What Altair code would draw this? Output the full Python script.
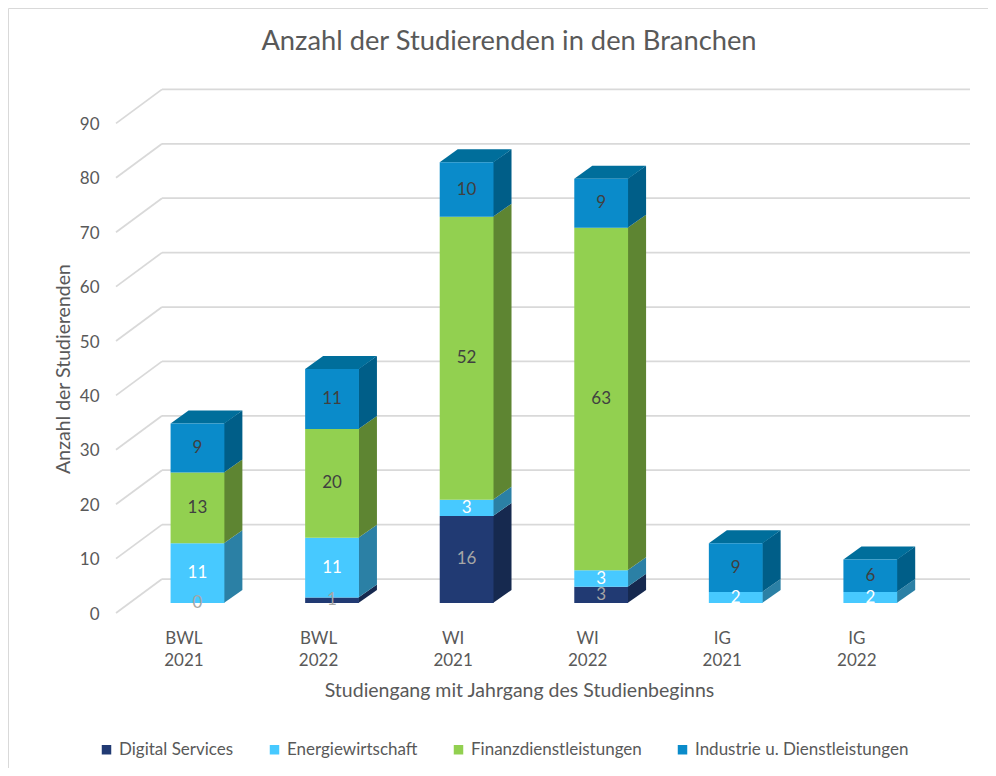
import json
import altair as alt
import pandas as pd

# ---------------- data ----------------
categories = ["BWL 2021", "BWL 2022", "WI 2021", "WI 2022", "IG 2021", "IG 2022"]
series_names = ["Digital Services", "Energiewirtschaft", "Finanzdienstleistungen",
                "Industrie u. Dienstleistungen"]
digital_services = [0, 1, 16, 3, None, None]
energiewirtschaft = [11, 11, 3, 3, 2, 2]
finanzdienstleistungen = [13, 20, 52, 63, None, None]
industrie_dienstleistungen = [9, 11, 10, 9, 9, 6]
y_ticks = [0, 10, 20, 30, 40, 50, 60, 70, 80, 90]

# ---------------- styles ----------------
front_colors = ["#213A73", "#47C9FF", "#92D050", "#0A8BCA"]
side_colors = ["#16294F", "#2B80A5", "#5E8532", "#005E88"]
top_colors = ["#1A3060", "#38A6D4", "#76A840", "#006E9B"]
label_colors = ["#A6A6A6", "#FFFFFF", "#404040", "#404040"]
FONT = "Lato"
TXT = "#595959"

rows = []
for s_i, (name, vals) in enumerate(zip(series_names, [digital_services, energiewirtschaft,
                                                     finanzdienstleistungen,
                                                     industrie_dienstleistungen])):
    for c_i, (cat, v) in enumerate(zip(categories, vals)):
        if v is not None:
            rows.append({"cat": cat, "ci": c_i, "series": name, "sidx": s_i, "value": v})
df = pd.DataFrame(rows)

W, H = 980, 760
Y0, Y90 = 595, 105.4
X0, X1 = 122.2, 929.6
px_per_unit_y = (Y0 - Y90) / 90
px_per_unit_x = (X1 - X0) / len(categories)
BW_PX = 53.8
DX, DY = 18, 13
ky = DY / px_per_unit_y          # depth rise in value units
kx = DX / px_per_unit_x          # depth shift in category units
hb = BW_PX / 2 / px_per_unit_x   # half bar width in category units

x_scale = alt.Scale(domain=[-0.5, len(categories) - 0.5], range=[X0, X1], nice=False,
                    zero=False, padding=0)
y_scale = alt.Scale(domain=[0, 90], range=[Y0, Y90], nice=False, zero=True, padding=0)

label_lines = json.dumps([c.split(" ") for c in categories])
x_axis = alt.Axis(title="Studiengang mit Jahrgang des Studienbeginns", orient="bottom",
                  offset=-(H - 615), labelOffset=-14, values=list(range(len(categories))),
                  labelExpr=f"{label_lines}[datum.value]",
                  domain=False, ticks=False, grid=False, labelPadding=7, labelAngle=0,
                  labelFontSize=17, labelLineHeight=22, titleFontSize=19.5, titlePadding=13,
                  titleX=511)
y_axis = alt.Axis(title="Anzahl der Studierenden", orient="left", offset=-93, values=y_ticks,
                  labelOffset=11, domain=False, ticks=False, grid=False, labelPadding=2,
                  labelFontSize=17, titleFontSize=19.5, titlePadding=6, titleY=360.5)

face_domain = ["side|" + s for s in series_names] + ["top|" + s for s in series_names]
face_scale = alt.Scale(domain=face_domain, range=side_colors + top_colors)

ticks_df = pd.DataFrame({"v": y_ticks})

grid_h = alt.Chart(ticks_df).mark_rule(color="#D9D9D9", strokeWidth=1.75, yOffset=-24).encode(
    y=alt.Y("v:Q", scale=y_scale, axis=y_axis),
    x=alt.value(154), x2=alt.value(962))
grid_d = alt.Chart(ticks_df).mark_rule(color="#D9D9D9", strokeWidth=1.75, yOffset=10,
                                       y2Offset=-24).encode(
    y=alt.Y("v:Q", scale=y_scale, axis=y_axis), y2=alt.Y2("v:Q"),
    x=alt.value(108), x2=alt.value(154))

base = alt.Chart(df).transform_stack(
    stack="value", groupby=["cat"], as_=["lo", "hi"],
    sort=[alt.SortField("sidx", order="ascending")])

# side faces (parallelograms right of each segment)
side = base.transform_filter("datum.value > 0").transform_calculate(
    d="[0, 1]").transform_flatten(["d"]).transform_calculate(
    xs=f"datum.ci + {hb} - 0.004 + datum.d * ({kx} + 0.004)",
    ylo=f"datum.lo + datum.d * {ky}",
    yhi=f"datum.hi + datum.d * {ky}",
    face="'side|' + datum.series",
    pid="datum.cat + '|' + datum.series").mark_area(interpolate="linear").encode(
    x=alt.X("xs:Q", scale=x_scale, axis=x_axis),
    y=alt.Y("ylo:Q", scale=y_scale, axis=y_axis), y2="yhi:Q",
    color=alt.Color("face:N", scale=face_scale, legend=None),
    detail="pid:N")

# top face of each column
top = base.transform_joinaggregate(total="max(hi)", groupby=["cat"]).transform_filter(
    "datum.hi == datum.total && datum.value > 0").transform_calculate(
    d="[0, 1, 2, 3]").transform_flatten(["d"]).transform_calculate(
    xs=f"datum.ci + [-{hb}, -{hb} + {kx}, {hb}, {hb} + {kx}][datum.d]",
    ylo=f"datum.hi + (datum.d == 3 ? {ky} : 0)",
    yhi=f"datum.hi + (datum.d >= 1 ? {ky} : 0)",
    face="'top|' + datum.series",
    pid="datum.cat").mark_area(interpolate="linear").encode(
    x=alt.X("xs:Q", scale=x_scale, axis=x_axis),
    y=alt.Y("ylo:Q", scale=y_scale, axis=y_axis), y2="yhi:Q",
    color=alt.Color("face:N", scale=face_scale, legend=None),
    detail="pid:N")

bars = base.mark_bar(orient="vertical", width=BW_PX).encode(
    x=alt.X("ci:Q", scale=x_scale, axis=x_axis),
    y=alt.Y("lo:Q", scale=y_scale, axis=y_axis), y2="hi:Q",
    color=alt.Color("series:N", scale=alt.Scale(domain=series_names, range=front_colors),
                    legend=alt.Legend(orient="none", legendX=90, legendY=733,
                                      direction="horizontal", title=None,
                                      symbolType="square", symbolSize=90,
                                      symbolStrokeWidth=0, labelFontSize=17,
                                      labelFont=FONT, labelColor=TXT, columnPadding=32,
                                      labelOffset=4, labelLimit=0)))

labels = base.transform_calculate(mid="(datum.lo + datum.hi) / 2").mark_text(
    fontSize=17, font=FONT).encode(
    x=alt.X("ci:Q", scale=x_scale, axis=x_axis),
    y=alt.Y("mid:Q", scale=y_scale, axis=y_axis),
    text="value:Q",
    color=alt.Color("series:N", scale=alt.Scale(domain=series_names, range=label_colors),
                    legend=None))

chart = alt.layer(grid_h, grid_d, side, top, bars, labels).resolve_scale(
    color="independent").properties(
    width=W, height=H, padding=0,
    autosize=alt.AutoSizeParams(type="none"),
    background="white",
    title=alt.TitleParams("Anzahl der Studierenden in den Branchen", fontSize=27.3, color=TXT,
                          font=FONT, fontWeight="normal", anchor="middle", offset=-69,
                          baseline="alphabetic", dx=11),
).configure_view(stroke="#D9D9D9", strokeWidth=1).configure_axis(
    labelFont=FONT, titleFont=FONT, labelColor=TXT, titleColor=TXT,
    titleFontWeight="normal")

chart.save("out.html", embed_options={"renderer": "svg", "actions": False})
